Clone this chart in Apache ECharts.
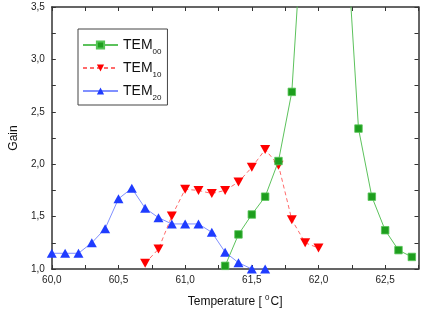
<!DOCTYPE html>
<html><head><meta charset="utf-8">
<script src="https://cdn.jsdelivr.net/npm/echarts@6/dist/echarts.min.js"></script>
<style>html,body{margin:0;padding:0;background:#fff}#c{width:436px;height:313px}</style>
</head><body><div id="c"></div>
<script>
// Temperature (°C) values for each series
const tem00X = [61.3, 61.4, 61.5, 61.6, 61.7, 61.8, 61.9, 62.0, 62.1, 62.2, 62.3, 62.4, 62.5, 62.6, 62.7];
const tem00Y = [1.03, 1.33, 1.52, 1.69, 2.03, 2.69, 4.7, 6.5, 6.0, 4.4, 2.34, 1.69, 1.37, 1.18, 1.115];
const tem10X = [60.7, 60.8, 60.9, 61.0, 61.1, 61.2, 61.3, 61.4, 61.5, 61.6, 61.7, 61.8, 61.9, 62.0];
const tem10Y = [1.056, 1.19, 1.505, 1.76, 1.75, 1.72, 1.75, 1.83, 1.97, 2.14, 1.99, 1.47, 1.25, 1.2];
const tem20X = [60.0, 60.1, 60.2, 60.3, 60.4, 60.5, 60.6, 60.7, 60.8, 60.9, 61.0, 61.1, 61.2, 61.3, 61.4, 61.5, 61.6];
const tem20Y = [1.15, 1.15, 1.15, 1.25, 1.385, 1.67, 1.77, 1.58, 1.49, 1.43, 1.43, 1.43, 1.35, 1.16, 1.06, 1.0, 1.0];
const seriesNames = ['TEM00', 'TEM10', 'TEM20'];
const xMin = 60.0, xMax = 62.75, yMin = 1.0, yMax = 3.5;

const pairs = (xs, ys) => xs.map((x, i) => [x, ys[i]]);
const fmt = v => (Math.abs(v * 2 - Math.round(v * 2)) < 1e-6) ? v.toFixed(1).replace('.', ',') : '';
const tickFont = {fontFamily: '"Liberation Sans Narrow", "Liberation Sans", Arial, sans-serif', fontSize: 10, color: '#222'};
const axColor = '#333';
function axisBase(extra) {
  return Object.assign({
    type: 'value',
    axisLine: {show: true, onZero: false, lineStyle: {color: axColor, width: 1.5}},
    axisTick: {show: true, inside: true, length: 4, lineStyle: {color: axColor, width: 1}},
    splitLine: {show: false},
    interval: 0.25
  }, extra);
}
const chart = echarts.init(document.getElementById('c'));
chart.setOption({
  animation: false,
  grid: {left: 46.5, right: 17.5, top: 7, bottom: 37},
  xAxis: [
    axisBase({min: xMin, max: xMax, position: 'bottom',
      axisLabel: Object.assign({formatter: fmt, margin: 6}, tickFont),
      name: '{n|Temperature [ }{s|0}{n|C]}', nameLocation: 'middle', nameGap: 25,
      nameTextStyle: {rich: {
        n: {fontSize: 12, fontFamily: 'Liberation Sans, Arial, sans-serif', color: '#111', lineHeight: 14, verticalAlign: 'bottom'},
        s: {fontSize: 8, fontFamily: 'Liberation Sans, Arial, sans-serif', color: '#111', lineHeight: 8, padding: [0, 1, 6, 0], verticalAlign: 'top'}
      }}}),
    axisBase({min: xMin, max: xMax, position: 'top', axisLabel: {show: false}})
  ],
  yAxis: [
    axisBase({min: yMin, max: yMax, position: 'left',
      axisLabel: Object.assign({formatter: fmt, margin: 7}, tickFont),
      name: 'Gain', nameLocation: 'middle', nameGap: 19,
      nameTextStyle: {fontSize: 12, fontFamily: 'Liberation Sans, Arial, sans-serif', color: '#111'}}),
    axisBase({min: yMin, max: yMax, position: 'right', axisLabel: {show: false}})
  ],
  legend: {
    orient: 'vertical', left: 78, top: 29, padding: [9, 6, 3, 4], itemGap: 5,
    itemWidth: 35, itemHeight: 9,
    borderColor: '#444', borderWidth: 1, backgroundColor: '#fff',
    data: seriesNames,
    formatter: name => '{m|TEM}{s|' + name.slice(3) + '}',
    textStyle: {rich: {
      m: {fontSize: 14, fontFamily: 'Liberation Sans, Arial, sans-serif', color: '#111', lineHeight: 14, verticalAlign: 'middle'},
      s: {fontSize: 8, fontFamily: 'Liberation Sans, Arial, sans-serif', color: '#111', lineHeight: 8, padding: [10, 0, 0, 0], verticalAlign: 'top'}
    }}
  },
  series: [
    {name: seriesNames[0], type: 'line', data: pairs(tem00X, tem00Y), symbol: 'rect', symbolSize: 7.5,
      lineStyle: {color: '#5cc25c', width: 1}, itemStyle: {color: '#1e9e1e', borderColor: '#55c455', borderWidth: 0.8}, clip: true, z: 3},
    {name: seriesNames[1], type: 'line', data: pairs(tem10X, tem10Y), symbol: 'triangle', symbolSize: [10, 9], symbolRotate: 180,
      lineStyle: {color: '#ff6a6a', width: 1, type: [4, 3]}, itemStyle: {color: '#ff0000'}, clip: true, z: 2},
    {name: seriesNames[2], type: 'line', data: pairs(tem20X, tem20Y), symbol: 'triangle', symbolSize: [10, 9],
      lineStyle: {color: '#8090ff', width: 1}, itemStyle: {color: '#1f3cff'}, clip: true, z: 1}
  ]
});
</script></body></html>
